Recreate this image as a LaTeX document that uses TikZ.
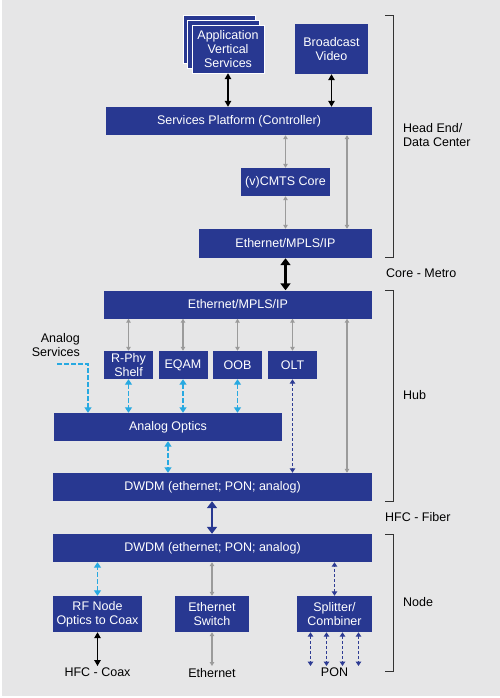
\documentclass[tikz,border=0pt]{standalone}
\usepackage{fontspec}
\setmainfont{Liberation Sans}
\usetikzlibrary{arrows.meta,positioning,calc}
\definecolor{ciscoblue}{HTML}{283891}
\definecolor{bggray}{HTML}{E6E6E7}
\definecolor{linkgray}{HTML}{9B9B9B}
\definecolor{analog}{HTML}{27A9E1}
\definecolor{pondark}{HTML}{2E3C94}

\begin{document}
\begin{tikzpicture}[x=1pt, y=-1pt,
  box/.style={rectangle, fill=ciscoblue, text=white, inner sep=1pt, font=\fontsize{12.5}{13.8}\selectfont, align=center},
  side/.style={font=\fontsize{12.5}{14}\selectfont, align=left, anchor=west, inner sep=0pt},
  endlbl/.style={font=\fontsize{12.5}{14}\selectfont, anchor=north, inner sep=2pt},
  blk/.style={draw=black, line width=1.3pt, >={Triangle[length=6pt,width=6.5pt]}, <->},
  thk/.style={draw=black, line width=2.6pt, >={Triangle[length=7pt,width=10pt]}, <->},
  thkblue/.style={draw=ciscoblue, line width=2.6pt, >={Triangle[length=7pt,width=10pt]}, <->},
  gry/.style={draw=linkgray, line width=1.1pt, >={Triangle[length=4pt,width=4.5pt]}, <->},
  cyn/.style={draw=analog, line width=1.5pt, dash pattern=on 4.5pt off 2.5pt, >={Triangle[length=5.5pt,width=7pt]}, <->},
  drk/.style={draw=pondark, line width=1.3pt, dash pattern=on 3pt off 2pt, >={Triangle[length=4.5pt,width=5.5pt]}, <->},
  brk/.style={draw=black!80, line width=0.9pt}
]
  \useasboundingbox (0,0) rectangle (500,698);
  \fill[white] (0,0) rectangle (500,698);
  \fill[bggray] (2,0) rectangle (500,696);

  % Head end / data center
  \node[box, draw=white, minimum width=72pt, minimum height=48pt] (appv3) at (219,39) {};
  \node[box, draw=white, minimum width=72pt, minimum height=48pt] (appv2) at (223.5,44) {};
  \node[box, draw=white, minimum width=72pt, minimum height=48pt] (appv) at (228,49) {Application\\Vertical\\Services};
  \node[box, minimum width=73pt, minimum height=50pt] (bcast) at (331.5,49) {Broadcast\\Video};
  \node[box, minimum width=266pt, minimum height=28pt] (svc) at (239,121) {Services Platform (Controller)};
  \node[box, minimum width=89pt, minimum height=28pt] (cmts) at (285.5,182) {(v)CMTS Core};
  \node[box, minimum width=173pt, minimum height=29pt] (eth1) at (285.5,243.5) {Ethernet/MPLS/IP};

  % Hub
  \node[box, minimum width=268pt, minimum height=28pt] (eth2) at (238,304.5) {Ethernet/MPLS/IP};
  \node[box, minimum width=49pt, minimum height=28pt] (rphy) at (128.5,365) {R-Phy\\Shelf};
  \node[box, minimum width=49pt, minimum height=28pt] (eqam) at (183,365) {EQAM};
  \node[box, minimum width=49pt, minimum height=28pt] (oob) at (237.5,365) {OOB};
  \node[box, minimum width=49pt, minimum height=28pt] (olt) at (292.5,365) {OLT};
  \node[font=\fontsize{12.5}{14}\selectfont, align=right, anchor=east, inner sep=0pt] (asvc) at (80,345) {Analog\\Services};
  \node[box, minimum width=228pt, minimum height=28pt] (aopt) at (168,427) {Analog Optics};
  \node[box, minimum width=319pt, minimum height=28pt] (dwdm1) at (212.5,487) {DWDM (ethernet; PON; analog)};

  % Node
  \node[box, minimum width=319pt, minimum height=28pt] (dwdm2) at (212.5,548) {DWDM (ethernet; PON; analog)};
  \node[box, minimum width=89pt, minimum height=36pt] (rfn) at (97.5,614) {RF Node\\Optics to Coax};
  \node[box, minimum width=74pt, minimum height=36pt] (esw) at (212,614) {Ethernet\\Switch};
  \node[box, minimum width=75pt, minimum height=36pt] (split) at (334.5,614) {Splitter/\\Combiner};
  \node[endlbl] (hfcc) at (97.5,666) {HFC - Coax};
  \node[endlbl] (ethl) at (212,666) {Ethernet};
  \node[endlbl] (ponl) at (334.5,666) {PON};

  % connectors
  \coordinate (bypass) at (347,0);
  \coordinate (adrop) at (88,0);
  \draw[blk] (appv.south) -- (appv.south |- svc.north);
  \draw[blk] (bcast.south) -- (bcast.south |- svc.north);
  \draw[gry] (cmts.north) -- (cmts.north |- svc.south);
  \draw[gry] (cmts.south) -- (cmts.south |- eth1.north);
  \draw[gry] (svc.south -| bypass) -- (eth1.north -| bypass);
  \draw[thk] (eth1.south) -- (eth1.south |- eth2.north);
  \foreach \b in {rphy,eqam,oob,olt}
    \draw[gry] (\b.north) -- (\b.north |- eth2.south);
  \draw[gry] (eth2.south -| bypass) -- (dwdm1.north -| bypass);
  \draw[cyn, <-] (aopt.north -| adrop) |- ([yshift=-7pt]asvc.south);
  \foreach \b in {rphy,eqam,oob}
    \draw[cyn] (\b.south) -- (\b.south |- aopt.north);
  \draw[drk] (olt.south) -- (olt.south |- dwdm1.north);
  \draw[cyn] (aopt.south) -- (aopt.south |- dwdm1.north);
  \draw[thkblue] (dwdm1.south -| esw) -- (dwdm2.north -| esw);
  \draw[cyn] (rfn.north) -- (rfn.north |- dwdm2.south);
  \draw[gry] (esw.north) -- (esw.north |- dwdm2.south);
  \draw[drk] (split.north) -- (split.north |- dwdm2.south);
  \draw[blk] (rfn.south) -- (hfcc.north);
  \draw[gry] (esw.south) -- (ethl.north);
  \foreach \dx in {-24,-8,8,24}
    \draw[drk] ([xshift=\dx pt]split.south) -- ([xshift=\dx pt]ponl.north);

  % domains
  \draw[brk] (385,15) -- (393,15) -- (393,257) -- (385,257);
  \draw[brk] (385,290) -- (393,290) -- (393,501) -- (385,501);
  \draw[brk] (385,534) -- (393,534) -- (393,671) -- (385,671);
  \node[side] (hdc) at (403,135) {Head End/\\Data Center};
  \node[side] (cmet) at (386,273) {Core - Metro};
  \node[side] (hub) at (403,395) {Hub};
  \node[side] (hfcf) at (385,517) {HFC - Fiber};
  \node[side] (nde) at (403,602) {Node};
\end{tikzpicture}
\end{document}
